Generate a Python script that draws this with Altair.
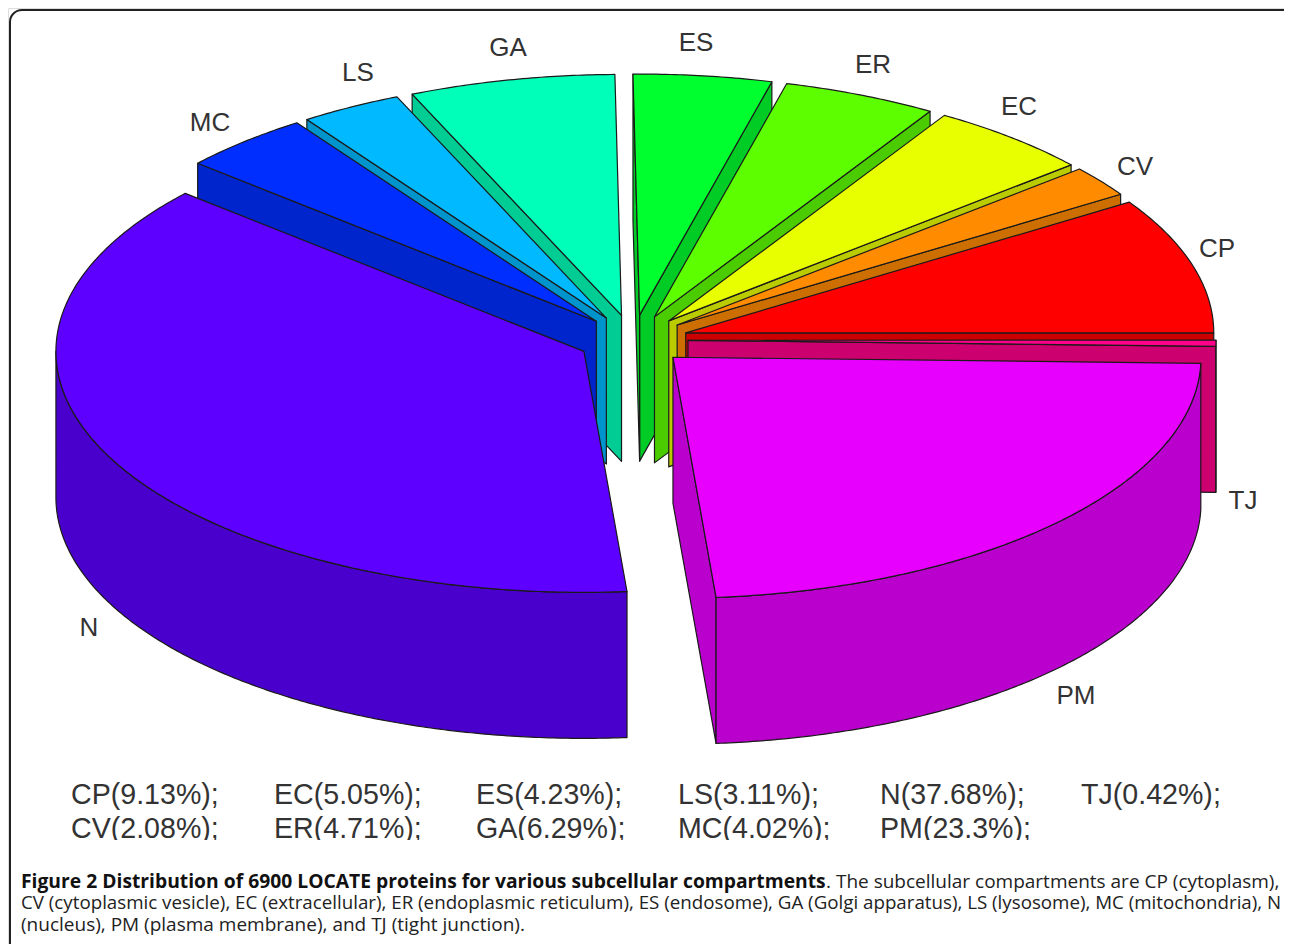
import math
import altair as alt

# ---- data ----
names = ["CP", "CV", "EC", "ER", "ES", "GA", "LS", "MC", "N", "PM", "TJ"]
shares = [9.13, 2.08, 5.05, 4.71, 4.23, 6.29, 3.11, 4.02, 37.68, 23.3, 0.42]
top_colors = ["#FF0000", "#FF8B00", "#E8FF00", "#5DFF00", "#00FF2E", "#00FFB9",
              "#00B9FF", "#002EFF", "#5D00FF", "#E800FF", "#FF008B"]
side_colors = ["#CC0000", "#CC6F00", "#BACC00", "#4ACC00", "#00CC25", "#00CC94",
               "#0094CC", "#0025CC", "#4A00CC", "#BA00CC", "#CC006F"]
legend_order = ["CP", "CV", "EC", "ER", "ES", "GA", "LS", "MC", "N", "PM", "TJ"]

# ---- layout ----
CX, CY = 633.0, 340.0
RX, RY = 528.0, 241.0
EXPLODE = 55.0
THICK = 146.0
SQUASH = RY / RX
label_xy = {"CP": (1217, 249), "CV": (1135, 167), "EC": (1019, 107), "ER": (873, 65),
            "ES": (696, 43), "GA": (508, 48), "LS": (358, 73), "MC": (210, 123),
            "N": (89, 628), "PM": (1076, 696), "TJ": (1243, 501)}
legend_cols = [71, 274, 476, 678, 880, 1081]
legend_rows = [804, 838]
caption = [
    (21, 888, "bold", 19.3, "Figure 2 Distribution of 6900 LOCATE proteins for various subcellular compartments"),
    (826, 888, "normal", 19.0, ". The subcellular compartments are CP (cytoplasm),"),
    (21, 909, "normal", 18.74, "CV (cytoplasmic vesicle), EC (extracellular), ER (endoplasmic reticulum), ES (endosome), GA (Golgi apparatus), LS (lysosome), MC (mitochondria), N"),
    (21, 931, "normal", 19.0, "(nucleus), PM (plasma membrane), and TJ (tight junction)."),
]


def feature(ring, fill):
    ring = [[round(a, 2), round(b, 2)] for a, b in ring]
    ring.append(ring[0])
    return {"type": "Feature",
            "geometry": {"type": "Polygon", "coordinates": [ring]},
            "properties": {"fill": fill}}


slices = []
start = 0.0
for name, share, top, side in zip(names, shares, top_colors, side_colors):
    a0 = start
    a1 = start + share * 3.6
    start = a1
    mid = math.radians((a0 + a1) / 2)
    ax = CX + EXPLODE * math.cos(mid)
    ay = CY - EXPLODE * SQUASH * math.sin(mid)

    def pt(deg):
        t = math.radians(deg)
        return (ax + RX * math.cos(t), ay - RY * math.sin(t))

    def down(p):
        return (p[0], p[1] + THICK)

    n = max(2, int((a1 - a0) * 2))
    arc = [pt(a0 + (a1 - a0) * i / n) for i in range(n + 1)]
    feats = []
    # radial walls, only those that face the viewer
    if math.cos(math.radians(a0)) > 0:
        feats.append(feature([(ax, ay), arc[0], down(arc[0]), (ax, ay + THICK)], side))
    if math.cos(math.radians(a1)) < 0:
        feats.append(feature([(ax, ay), arc[-1], down(arc[-1]), (ax, ay + THICK)], side))
    # outer wall: only the front half of the rim is visible
    w0, w1 = max(a0, 180.0), min(a1, 360.0)
    if w1 > w0:
        m = max(2, int((w1 - w0) * 2))
        rim = [pt(w0 + (w1 - w0) * i / m) for i in range(m + 1)]
        feats.append(feature(rim + [down(p) for p in reversed(rim)], side))
    feats.append(feature([(ax, ay)] + arc, top))
    slices.append((math.sin(mid), feats))

slices.sort(key=lambda s: -s[0])
features = [f for _, fs in slices for f in fs]

pie = alt.Chart(alt.InlineData(values={"type": "FeatureCollection", "features": features},
                               format=alt.DataFormat(property="features", type="json"))
                ).mark_geoshape(stroke="#1a1a1a", strokeWidth=1.2, strokeJoin="round").encode(
    fill=alt.Fill("properties.fill:N", scale=None, legend=None)
).project(type="identity", scale=1, translate=[-8, -8])

frame = alt.Chart(alt.Data(values=[{"a": 1}])).mark_rect(
    fill="white", stroke="#222222", strokeWidth=2, cornerRadius=12, clip=False
).encode(x=alt.value(2), x2=alt.value(1291), y=alt.value(2), y2=alt.value(947))

label_rows = [{"t": k, "x": label_xy[k][0] - 8, "y": label_xy[k][1] - 8} for k in names]
labels = alt.Chart(alt.Data(values=label_rows)).mark_text(
    font="Liberation Sans", fontSize=26, color="#333333", align="center", baseline="middle"
).encode(x=alt.X("x:Q", scale=None), y=alt.Y("y:Q", scale=None), text="t:N")

share_of = dict(zip(names, shares))
legend_rows_data = []
for i, k in enumerate(legend_order):
    col, row = i // 2, i % 2
    legend_rows_data.append({"t": f"{k}({share_of[k]}%);",
                             "x": legend_cols[col] - 8, "y": legend_rows[row] - 8})
legend = alt.Chart(alt.Data(values=legend_rows_data)).mark_text(
    font="Liberation Sans", fontSize=28.6, color="#333333", align="left", baseline="alphabetic"
).encode(x=alt.X("x:Q", scale=None), y=alt.Y("y:Q", scale=None), text="t:N")

# the bottom of the second legend row is cut off in the figure
legend_cut = alt.Chart(alt.Data(values=[{"a": 1}])).mark_rect(fill="white").encode(
    x=alt.value(40), x2=alt.value(1260), y=alt.value(832), y2=alt.value(855))

cap_rows = [{"t": t, "x": x - 8, "y": y - 8, "w": w, "s": s} for x, y, w, s, t in caption]
cap_bold = alt.Chart(alt.Data(values=[r for r in cap_rows if r["w"] == "bold"])).mark_text(
    font="Open Sans", fontWeight="bold", color="#111111", align="left", baseline="alphabetic"
).encode(x=alt.X("x:Q", scale=None), y=alt.Y("y:Q", scale=None), text="t:N",
         size=alt.Size("s:Q", scale=None, legend=None))
cap_norm = alt.Chart(alt.Data(values=[r for r in cap_rows if r["w"] == "normal"])).mark_text(
    font="Open Sans", color="#222222", align="left", baseline="alphabetic"
).encode(x=alt.X("x:Q", scale=None), y=alt.Y("y:Q", scale=None), text="t:N",
         size=alt.Size("s:Q", scale=None, legend=None))

chart = alt.layer(frame, pie, labels, legend, legend_cut, cap_bold, cap_norm).properties(
    width=1276, height=936, padding=0,
    autosize=alt.AutoSizeParams(type="none")
).configure_view(stroke=None).configure(background="white")

chart.save("out.html", embed_options={"renderer": "svg", "actions": False})
